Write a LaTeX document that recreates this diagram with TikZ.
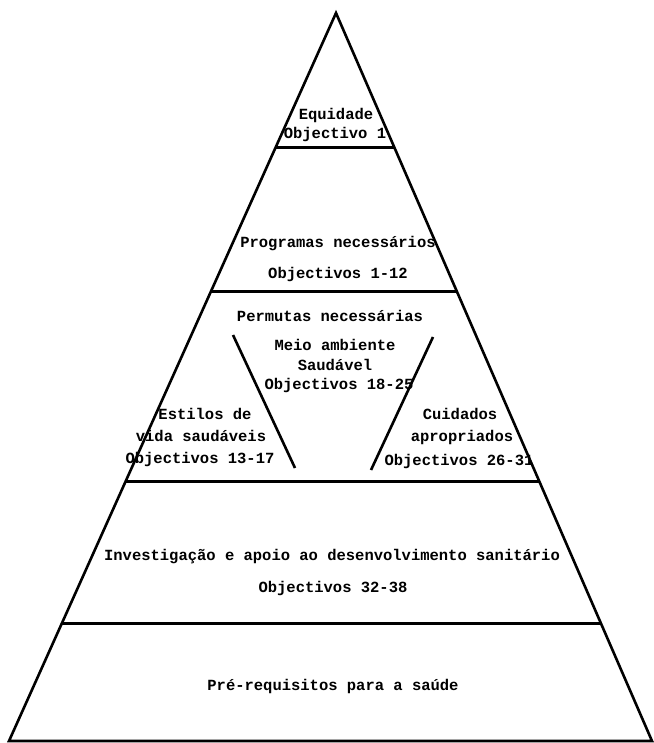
\documentclass[tikz,border=0pt]{standalone}
\usepackage{fontspec}
\setmonofont{Liberation Mono}
\usetikzlibrary{calc}
\tikzset{
  lbl/.style={font=\ttfamily\bfseries\fontsize{15.5}{17}\selectfont, inner sep=0pt, anchor=center},
  edge/.style={line width=2.6pt, line join=miter},
  bar/.style={line width=3pt},
  slant/.style={line width=2.6pt}
}
\begin{document}
\begin{tikzpicture}[x=1pt,y=-1pt]
\useasboundingbox (0,0) rectangle (653,743);
\coordinate (A) at (336,13);
\coordinate (BL) at (9,741);
\coordinate (BR) at (652,741);
\draw[edge] (A) -- (BL) -- (BR) -- cycle;
% horizontal separators
\coordinate (l1) at ($(A)!0.1854!(BL)$); \coordinate (r1) at ($(A)!0.1854!(BR)$);
\coordinate (l2) at ($(A)!0.3819!(BL)$); \coordinate (r2) at ($(A)!0.3819!(BR)$);
\coordinate (l3) at ($(A)!0.6442!(BL)$); \coordinate (r3) at ($(A)!0.6442!(BR)$);
\coordinate (l4) at ($(A)!0.8379!(BL)$); \coordinate (r4) at ($(A)!0.8379!(BR)$);
\draw[bar] (l1) -- (r1);
\draw[bar] (l2) -- (r2);
\draw[bar] (l3) -- (r3);
\draw[bar] (l4) -- (r4);
% inner slants
\coordinate (s1a) at (233,335); \coordinate (s1b) at (295,468);
\coordinate (s2a) at (433,337); \coordinate (s2b) at (371,470);
\draw[slant] (s1a) -- (s1b);
\draw[slant] (s2a) -- (s2b);
% labels
\node[lbl] (t1) at (336,115) {Equidade};
\node[lbl] (t2) at (335,134) {Objectivo 1};
\node[lbl] (t3) at (338,244) {Programas necessários};
\node[lbl] (t4) at (338,274) {Objectivos 1-12};
\node[lbl] (t5) at (330,316) {Permutas necessárias};
\node[lbl] (t6) at (335,345) {Meio ambiente};
\node[lbl] (t7) at (335,365) {Saudável};
\node[lbl] (t8) at (339,385) {Objectivos 18-25};
\node[lbl] (t9) at (205,414) {Estilos de};
\node[lbl] (t10) at (201,436) {vida saudáveis};
\node[lbl] (t11) at (200,459) {Objectivos 13-17};
\node[lbl] (t12) at (460,414) {Cuidados};
\node[lbl] (t13) at (462,437) {apropriados};
\node[lbl] (t14) at (459,461) {Objectivos 26-31};
\node[lbl] (t15) at (332,557) {Investigação e apoio ao desenvolvimento sanitário};
\node[lbl] (t16) at (333,588) {Objectivos 32-38};
\node[lbl] (t17) at (333,686) {Pré-requisitos para a saúde};
\end{tikzpicture}
\end{document}
